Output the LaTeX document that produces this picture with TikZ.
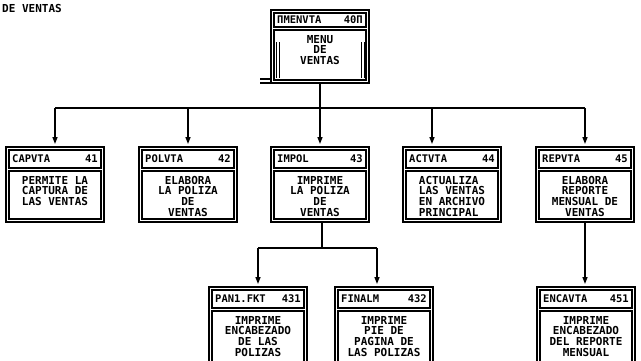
\documentclass[tikz,border=0pt]{standalone}
\usepackage{fontspec}
\setmonofont{DejaVu Sans Mono}
\usetikzlibrary{arrows.meta,calc}
\tikzset{
  outerbox/.style={draw, line width=1.7pt, inner sep=0pt, outer sep=0pt, minimum width=98pt},
  innerline/.style={draw, line width=1.1pt},
  headtxt/.style={inner sep=0pt, font=\ttfamily\bfseries\fontsize{10.5}{10}\selectfont},
  bodytxt/.style={inner sep=0pt, font=\ttfamily\bfseries\fontsize{11}{10.6}\selectfont},
  conn/.style={line width=1.3pt},
  arr/.style={line width=1.3pt, -{Triangle[length=7pt,width=5pt]}},
}
% name, cx, top, height, header height, head left, head right, align, body
\newcommand\mybox[9]{%
  \node[outerbox, minimum height=#4pt, anchor=north] (#1) at (#2,#3) {};
  \draw[innerline] ($(#1.north west)+(3,3)$) rectangle ($(#1.north east)+(-3,3+#5)$);
  \draw[innerline] ($(#1.north west)+(3,6+#5)$) rectangle ($(#1.south east)+(-3,-3)$);
  \node[headtxt, anchor=west] (#1hl) at ($(#1.north west)+(6,3+#5/2)$) {#6};
  \node[headtxt, anchor=east] (#1hr) at ($(#1.north east)+(-6,3+#5/2)$) {#7};
  \node[bodytxt, align=#8, anchor=north] (#1b) at ($(#1.north)+(0,11+#5)$) {#9};
}
\begin{document}
\begin{tikzpicture}[x=1pt,y=-1pt]
\clip (0,0) rectangle (641,360);
\fill[white] (0,0) rectangle (641,360);

\node[inner sep=0pt, anchor=west, font=\ttfamily\bfseries\fontsize{11}{10}\selectfont] (title) at (2,8) {DE VENTAS};

% top box
\mybox{menu}{320}{10}{73}{14}{ΠMENVTA}{40Π}{center}{MENU\\DE\\VENTAS}
\foreach \dx in {5,8} {
  \draw[line width=1pt] ($(menu.north west)+(\dx,32)$) -- ($(menu.south west)+(\dx,-5)$);
  \draw[line width=1pt] ($(menu.north east)+(-\dx,32)$) -- ($(menu.south east)+(-\dx,-5)$);
}
\draw[line width=1.2pt] ($(menu.south west)+(-11,-4)$) -- ++(11,0);
\draw[line width=1.2pt] ($(menu.south west)+(-11,0)$) -- ++(11,0);

% level 2
\mybox{capvta}{55}{147}{75}{18}{CAPVTA}{41}{left}{PERMITE LA\\CAPTURA DE\\LAS VENTAS}
\mybox{polvta}{188}{147}{75}{18}{POLVTA}{42}{center}{ELABORA\\LA POLIZA\\DE\\VENTAS}
\mybox{impol}{320}{147}{75}{18}{IMPOL}{43}{center}{IMPRIME\\LA POLIZA\\DE\\VENTAS}
\mybox{actvta}{452}{147}{75}{18}{ACTVTA}{44}{left}{ACTUALIZA\\LAS VENTAS\\EN ARCHIVO\\PRINCIPAL}
\mybox{repvta}{585}{147}{75}{18}{REPVTA}{45}{center}{ELABORA\\REPORTE\\MENSUAL DE\\VENTAS}

% level 3
\mybox{panfkt}{258}{287}{90}{18}{PAN1.FKT}{431}{center}{IMPRIME\\ENCABEZADO\\DE LAS\\POLIZAS}
\mybox{finalm}{384}{287}{90}{18}{FINALM}{432}{center}{IMPRIME\\PIE   DE\\PAGINA DE\\LAS POLIZAS}
\mybox{encavta}{586}{287}{90}{18}{ENCAVTA}{451}{center}{IMPRIME\\ENCABEZADO\\DEL REPORTE\\MENSUAL}

% connectors, top level
\coordinate (bus1) at (320,108);
\draw[conn] (menu.south) -- (bus1);
\draw[conn] (capvta.north |- bus1) -- (repvta.north |- bus1);
\draw[arr] (capvta.north |- bus1) -- ($(capvta.north)+(0,-3)$);
\draw[arr] (polvta.north |- bus1) -- ($(polvta.north)+(0,-3)$);
\draw[arr] (bus1) -- ($(impol.north)+(0,-3)$);
\draw[arr] ($(actvta.north |- bus1)+(-20,0)$) -- ($(actvta.north)+(-20,-3)$);
\draw[arr] (repvta.north |- bus1) -- ($(repvta.north)+(0,-3)$);

% connectors, lower level
\coordinate (bus2) at (322,248);
\draw[conn] ($(impol.south)+(2,0)$) -- (bus2);
\draw[conn] (panfkt.north |- bus2) -- ($(finalm.north |- bus2)+(-7,0)$);
\draw[arr] (panfkt.north |- bus2) -- ($(panfkt.north)+(0,-3)$);
\draw[arr] ($(finalm.north |- bus2)+(-7,0)$) -- ($(finalm.north)+(-7,-3)$);
\draw[arr] (repvta.south) -- ($(encavta.north)+(-1,-3)$);
\end{tikzpicture}
\end{document}
